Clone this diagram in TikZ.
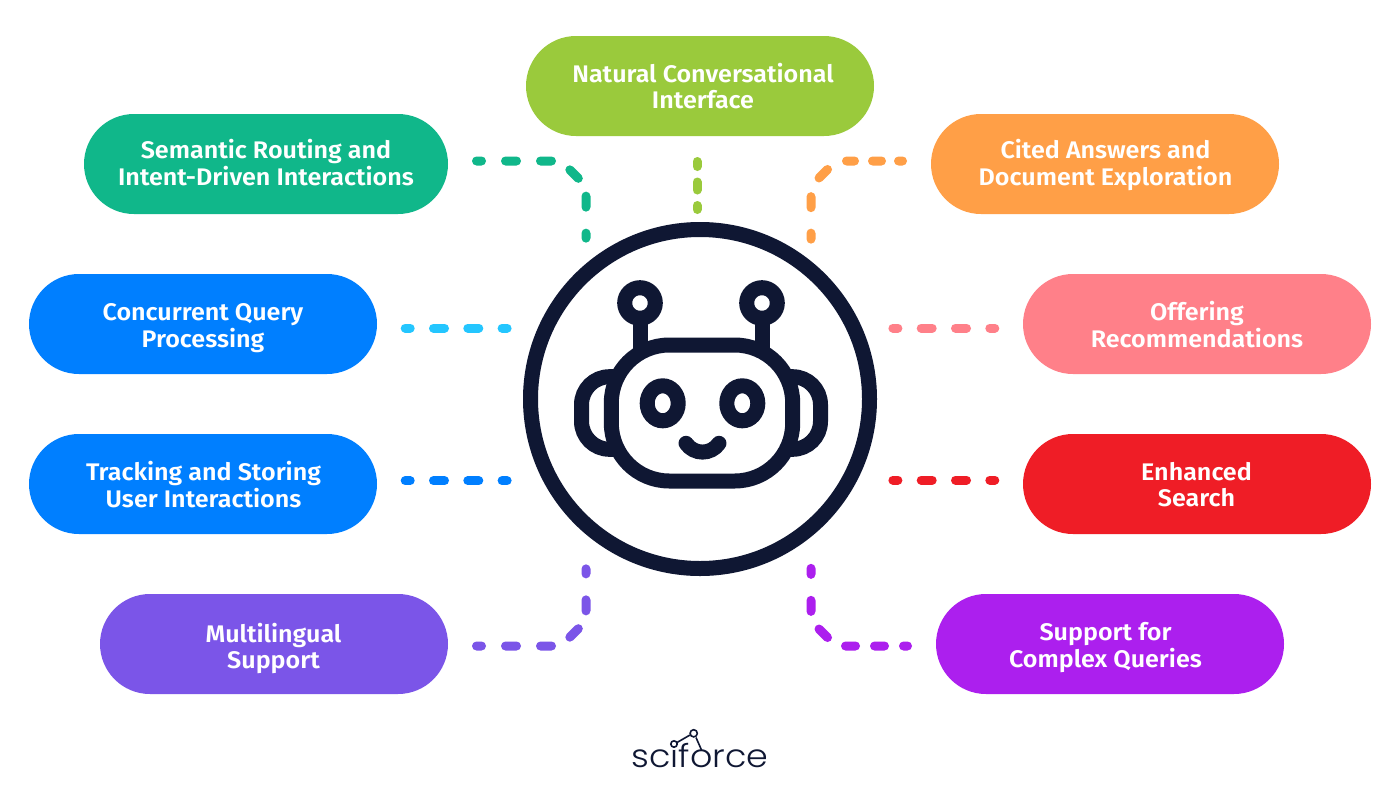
\documentclass[tikz,border=0pt]{standalone}
\usepackage{fontspec}
\setmainfont{Fira Sans}
\newfontfamily\labelfont[FakeStretch=1.045]{Fira Sans SemiBold}
\newfontfamily\logofont[FakeStretch=1.09]{Poppins Light}
\definecolor{ink}{HTML}{0F1733}
\definecolor{cLime}{HTML}{9ACA3C}
\definecolor{cTeal}{HTML}{10B78A}
\definecolor{cOrange}{HTML}{FF9F47}
\definecolor{cBlue}{HTML}{007FFF}
\definecolor{cCyan}{HTML}{24C6FF}
\definecolor{cPink}{HTML}{FF8089}
\definecolor{cRed}{HTML}{EF1D26}
\definecolor{cIndigo}{HTML}{7B55E8}
\definecolor{cViolet}{HTML}{AC1FEE}
% two centred lines whose first baseline is a fixed distance above the pill's centre
\newcommand{\pilltext}[4]{\makebox[0pt][c]{\hspace*{#1}\raisebox{#2}[0pt][0pt]{\begin{tabular}[t]{@{}c@{}}#3\\#4\end{tabular}}}}
\tikzset{
  pill/.style={rectangle,rounded corners=50pt,minimum height=100pt,inner sep=0pt,outer sep=0pt,
    text=white,font=\labelfont\fontsize{24}{26}\selectfont},
  link/.style={line width=9pt,line cap=round},
  strokeink/.style={draw=ink,line width=15pt},
  dashA/.style={dash pattern=on 5pt off 24pt on 11pt off 24pt on 11pt off 22pt on 12pt off 21pt on 11pt off 26pt on 5pt},
  dashRow/.style={dash pattern=on 5pt off 23.3pt on 11pt off 23.3pt on 11pt off 23.3pt on 5pt},
}
\begin{document}
\begin{tikzpicture}[x=1pt,y=-1pt]
\useasboundingbox (0,0) rectangle (1400,809);
\fill[white] (0,0) rectangle (1400,809);

% feature pills
\node[pill,fill=cLime,minimum width=348pt] (natural) at (700,86) {\pilltext{6pt}{4pt}{Natural Conversational}{Interface}};
\node[pill,fill=cTeal,minimum width=364pt] (semantic) at (266,164) {\pilltext{0pt}{5.8pt}{Semantic Routing and}{Intent-Driven Interactions}};
\node[pill,fill=cOrange,minimum width=348pt] (cited) at (1105,164) {\pilltext{1pt}{5.8pt}{Cited Answers and}{Document Exploration}};
\node[pill,fill=cBlue,minimum width=348pt] (concurrent) at (203,324) {\pilltext{0pt}{3.8pt}{Concurrent Query}{Processing}};
\node[pill,fill=cPink,minimum width=348pt] (offering) at (1197,324) {\pilltext{0pt}{3.8pt}{Offering}{Recommendations}};
\node[pill,fill=cBlue,minimum width=348pt] (tracking) at (203,484) {\pilltext{1pt}{3.8pt}{Tracking and Storing}{User Interactions}};
\node[pill,fill=cRed,minimum width=348pt] (enhanced) at (1197,484) {\pilltext{-1pt}{3.8pt}{Enhanced}{Search}};
\node[pill,fill=cIndigo,minimum width=348pt] (multi) at (274,644) {\pilltext{-1pt}{1.8pt}{Multilingual}{Support}};
\node[pill,fill=cViolet,minimum width=348pt] (complex) at (1110,644) {\pilltext{-9pt}{3.8pt}{Support for}{Complex Queries}};

% central ring
\node[circle,draw=ink,line width=15pt,minimum size=339pt,inner sep=0pt,fill=white] (hub) at (700,399) {};

% bend points of the elbow links
\coordinate (tealA) at (561,161);
\coordinate (tealB) at (586,186);
\coordinate (orangeA) at (836,161);
\coordinate (orangeB) at (811,186);
\coordinate (indigoA) at (561,646);
\coordinate (indigoB) at (586,621);
\coordinate (violetA) at (836,646);
\coordinate (violetB) at (811,621);
% start points beside the pills
\coordinate (limeS) at ([xshift=-3pt]natural.south);
\coordinate (cyanS) at ([yshift=-4pt]concurrent.east);
\coordinate (pinkS) at ([yshift=-4pt]offering.west);
\coordinate (blueS) at ([yshift=3.3pt]tracking.east);
\coordinate (redS) at ([yshift=4pt]enhanced.west);

% dashed links from the pills to the ring
\draw[link,cLime,dash pattern=on 5pt off 15.5pt on 8pt off 15.5pt on 4pt,shorten <=25.5pt,shorten >=12.5pt]
  (limeS) -- (limeS |- hub.north);
\draw[link,cTeal,dashA,shorten <=28.5pt,shorten >=25.1pt]
  ([yshift=3pt]semantic.east) -- (tealA) -- (tealB) -- (tealB |- hub.130.1);
\draw[link,cOrange,dash pattern=on 4pt off 17pt on 9pt off 18pt on 8pt off 22.5pt on 12pt off 22pt on 11pt off 25.5pt on 6pt,shorten <=28.5pt,shorten >=22.3pt]
  ([yshift=3pt]cited.west) -- (orangeA) -- (orangeB) -- (orangeB |- hub.51.2);
\draw[link,cCyan,dashRow,shorten <=28.2pt,shorten >=30.1pt]
  (cyanS) -- (cyanS -| hub.156.3);
\draw[link,cPink,dashRow,shorten <=28.2pt,shorten >=29.9pt]
  (pinkS) -- (pinkS -| hub.23.66);
\draw[link,cBlue,dashRow,shorten <=28.2pt,shorten >=35.2pt]
  (blueS) -- (blueS -| hub.-152.5);
\draw[link,cRed,dashRow,shorten <=28.2pt,shorten >=34.6pt]
  (redS) -- (redS -| hub.-27.2);
\draw[link,cIndigo,dashA,shorten <=28.5pt,shorten >=34.1pt]
  ([yshift=-2pt]multi.east) -- (indigoA) -- (indigoB) -- (indigoB |- hub.-130.1);
\draw[link,cViolet,dash pattern=on 4pt off 19pt on 10pt off 19pt on 10pt off 21.5pt on 12pt off 21pt on 11pt off 26pt on 6pt,shorten <=28.5pt,shorten >=31.6pt]
  ([yshift=-2pt]complex.west) -- (violetA) -- (violetB) -- (violetB |- hub.-51.2);

% robot: ears behind the head
\draw[strokeink,rounded corners=28pt] (622,376.7) -- (581.5,376.7) -- (581.5,449.3) -- (622,449.3);
\draw[strokeink,rounded corners=28pt] (782,376.7) -- (820.5,376.7) -- (820.5,449.3) -- (782,449.3);
% antennae
\draw[strokeink] (640,318) -- (640,352);
\draw[strokeink] (762,318) -- (762,352);
\draw[strokeink] (640,303) circle[radius=15.3];
\draw[strokeink] (762,303) circle[radius=15.3];
% head
\draw[strokeink,fill=white,rounded corners=58pt] (611.3,345) rectangle (792.7,481);
% eyes
\draw[strokeink] (662.7,403.3) ellipse[x radius=15.5,y radius=17.5];
\draw[strokeink] (742.3,403.3) ellipse[x radius=15.5,y radius=17.5];
% smile
\draw[strokeink,line cap=round] (686,443.3) .. controls (694,455) and (711,455) .. (719,443.3);

% logo
\node[inner sep=0pt,anchor=base,text=ink,font=\logofont\fontsize{32}{32}\selectfont] (logo) at (700,767) {sciforce};
\fill[white] (674,745) circle[radius=5];
\draw[ink,line width=1.6pt] (677,742.5) -- (690,735) (696,737.5) -- (701.5,750);
\draw[ink,line width=1.6pt] (674,744) circle[radius=3.2];
\draw[ink,line width=1.6pt] (693.7,733.3) circle[radius=3.6];
\end{tikzpicture}
\end{document}
